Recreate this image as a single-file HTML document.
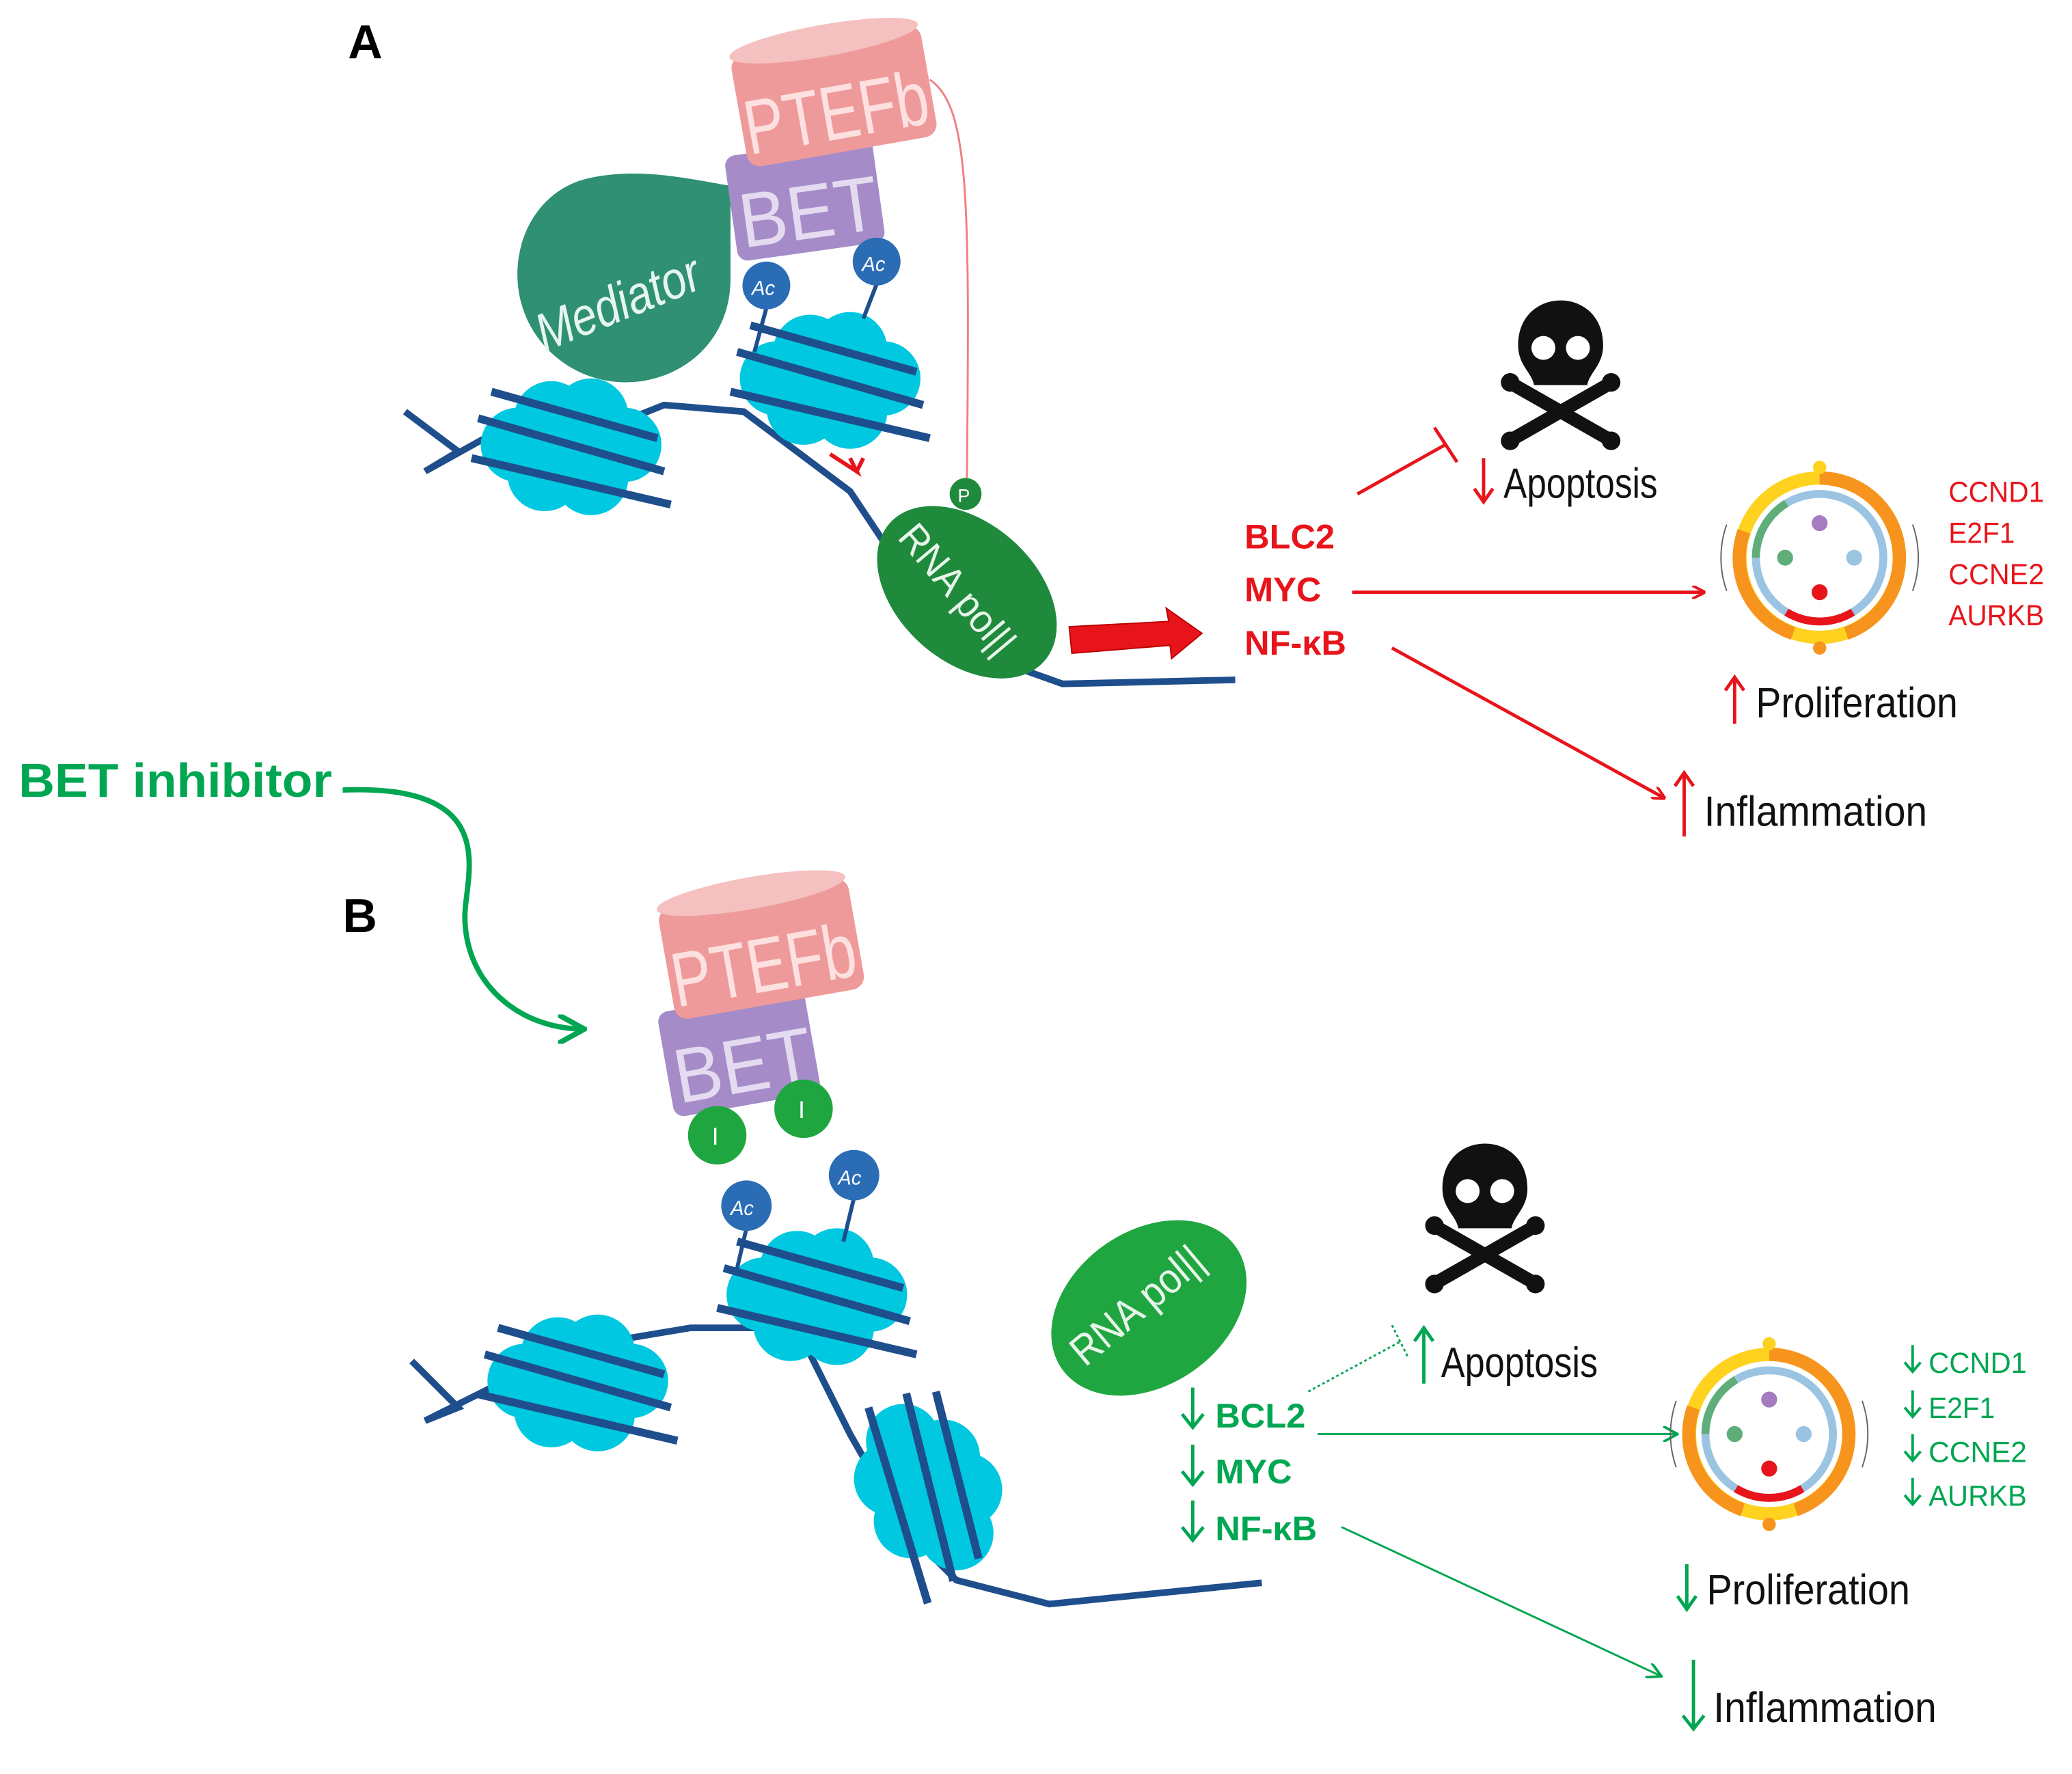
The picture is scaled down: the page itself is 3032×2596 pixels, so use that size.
<!DOCTYPE html>
<html><head><meta charset="utf-8"><style>
html,body{margin:0;padding:0;background:#fff;}
svg{display:block}
text{font-family:"Liberation Sans",sans-serif}
</style></head><body>
<svg width="3032" height="2596" viewBox="0 0 1560 1336" preserveAspectRatio="none" xmlns="http://www.w3.org/2000/svg">
<defs>
<marker id="ar" markerWidth="10" markerHeight="10" refX="9" refY="5" orient="auto" markerUnits="userSpaceOnUse"><path d="M0,0 L10,5 L0,10" fill="none" stroke="#e8141b" stroke-width="2"/></marker>
<marker id="ag" markerWidth="12" markerHeight="12" refX="10" refY="6" orient="auto" markerUnits="userSpaceOnUse"><path d="M0,0 L11,6 L0,12" fill="none" stroke="#00a651" stroke-width="2"/></marker>
<marker id="ag2" markerWidth="22" markerHeight="22" refX="20" refY="11" orient="auto" markerUnits="userSpaceOnUse"><path d="M0,0 L20,11 L0,22" fill="none" stroke="#00a651" stroke-width="4"/></marker>
<g id="nuc">
<circle cx="-40" cy="0" r="28" fill="#00c8e0"/><circle cx="-15" cy="-20" r="28" fill="#00c8e0"/><circle cx="15" cy="-22" r="28" fill="#00c8e0"/><circle cx="40" cy="0" r="28" fill="#00c8e0"/><circle cx="-20" cy="22" r="28" fill="#00c8e0"/><circle cx="15" cy="25" r="28" fill="#00c8e0"/><circle cx="0" cy="0" r="28" fill="#00c8e0"/>
<g fill="none" stroke="#1f4e8c" stroke-width="6"><path d="M-70,-20 L70,20"/><path d="M-75,10 L75,45"/><path d="M-60,-40 L65,-5"/></g>
</g>
<g id="cc">
<circle r="60" fill="none" stroke="#ffd21f" stroke-width="10"/>
<path d="M0,-60 A60,60 0 0 1 60,0 A60,60 0 0 1 20,57" fill="none" stroke="#f7941d" stroke-width="10"/>
<path d="M-57,-20 A60,60 0 0 0 -20,57" fill="none" stroke="#f7941d" stroke-width="10"/>
<circle r="48" fill="none" stroke="#9bc4e2" stroke-width="6"/>
<path d="M-25,41 A48,48 0 0 0 25,41" fill="none" stroke="#e8141b" stroke-width="6"/>
<path d="M-48,0 A48,48 0 0 1 -25,-41" fill="none" stroke="#5fae7a" stroke-width="6"/>
<circle cx="0" cy="-26" r="6" fill="#a67cc0"/><circle cx="-26" cy="0" r="6" fill="#5fae7a"/><circle cx="26" cy="0" r="6" fill="#9bc4e2"/><circle cx="0" cy="26" r="6" fill="#e8141b"/>
<circle cx="0" cy="-68" r="5" fill="#ffd21f"/><circle cx="0" cy="68" r="5" fill="#f7941d"/>
<path d="M70,-25 A75,75 0 0 1 70,25" fill="none" stroke="#666" stroke-width="1"/>
<path d="M-70,-25 A75,75 0 0 0 -70,25" fill="none" stroke="#666" stroke-width="1"/>
</g>
<g id="skull">
<path d="M-35,30 L35,70 M35,30 L-35,70" stroke="#111" stroke-width="10" stroke-linecap="round"/>
<circle cx="-38" cy="28" r="7" fill="#111"/><circle cx="38" cy="28" r="7" fill="#111"/><circle cx="-38" cy="72" r="7" fill="#111"/><circle cx="38" cy="72" r="7" fill="#111"/>
<path d="M-32,0 C-32,-45 32,-45 32,0 C32,15 22,20 20,30 L-20,30 C-22,20 -32,15 -32,0Z" fill="#111"/>
<circle cx="-13" cy="2" r="9" fill="#fff"/><circle cx="13" cy="2" r="9" fill="#fff"/>
</g>
</defs>

<!-- Panel A -->
<text x="262" y="44" font-size="36" font-weight="bold">A</text>
<path d="M305,310 L345,340 L320,355 L365,330 L450,325 L500,305 L560,310 L600,340 L640,370 L680,430 L730,490 L800,515 L930,512" fill="none" stroke="#1f4e8c" stroke-width="5"/>
<use href="#nuc" x="430" y="335"/>
<use href="#nuc" x="625" y="285"/>
<path d="M550,140 L550,210 C550,280 470,310 420,270 C370,230 385,150 440,135 C480,125 520,135 550,140Z" fill="#248a6c" opacity="0.95"/>
<text x="0" y="0" font-size="40" fill="#e6f5ee" font-style="italic" textLength="130" lengthAdjust="spacingAndGlyphs" transform="translate(410,265) rotate(-22)">Mediator</text>
<g transform="rotate(-8 605 150)"><rect x="550" y="110" width="112" height="80" rx="8" fill="#a58cc8"/><text x="555" y="180" font-size="58" fill="#e4dbf0" textLength="105" lengthAdjust="spacingAndGlyphs">BET</text></g>
<g transform="rotate(-10 627 70)"><rect x="555" y="30" width="145" height="85" rx="10" fill="#ef9a9a"/><ellipse cx="627" cy="30" rx="72" ry="12" fill="#f5c0c0"/><text x="557" y="105" font-size="58" fill="#fde0e0" textLength="140" lengthAdjust="spacingAndGlyphs">PTEFb</text></g>
<line x1="577" y1="232" x2="568" y2="265" stroke="#1f4e8c" stroke-width="3"/><circle cx="577" cy="215" r="18" fill="#2a6db5"/><text x="566" y="222" font-size="15" fill="#fff" font-style="italic">Ac</text>
<line x1="660" y1="214" x2="650" y2="240" stroke="#1f4e8c" stroke-width="3"/><circle cx="660" cy="197" r="18" fill="#2a6db5"/><text x="649" y="204" font-size="15" fill="#fff" font-style="italic">Ac</text>
<path d="M700,60 C730,80 730,150 728,360" fill="none" stroke="#f08080" stroke-width="1.5"/>
<path d="M625,342 L645,355 L640,345 M645,355 L650,345" fill="none" stroke="#e8141b" stroke-width="3"/>
<ellipse cx="728" cy="446" rx="78" ry="52" fill="#1f8a3c" transform="rotate(42 728 446)"/>
<text x="0" y="0" font-size="30" fill="#e8f5e9" textLength="118" lengthAdjust="spacingAndGlyphs" transform="translate(675,405) rotate(50)">RNA pol||</text>
<circle cx="727" cy="372" r="12" fill="#1f8a3c"/><text x="721" y="378" font-size="14" fill="#fff">P</text>
<path d="M805,472 L880,468 L878,458 L905,477 L882,496 L881,486 L807,492Z" fill="#e8141b" stroke="#b00" stroke-width="1"/>
<g font-size="26" font-weight="bold" fill="#e8141b">
<text x="937" y="413">BLC2</text><text x="937" y="453">MYC</text><text x="937" y="493">NF-κB</text></g>
<path d="M1022,372 L1088,335 M1080,322 L1097,348" stroke="#e8141b" stroke-width="2.5" fill="none"/>
<line x1="1018" y1="446" x2="1283" y2="446" stroke="#e8141b" stroke-width="2.5" marker-end="url(#ar)"/>
<line x1="1048" y1="488" x2="1253" y2="601" stroke="#e8141b" stroke-width="2.5" marker-end="url(#ar)"/>
<use href="#skull" x="1175" y="260"/>
<g font-size="32" fill="#111" lengthAdjust="spacingAndGlyphs">
<text x="1132" y="375" textLength="116" lengthAdjust="spacingAndGlyphs">Apoptosis</text><text x="1322" y="540" textLength="152" lengthAdjust="spacingAndGlyphs">Proliferation</text><text x="1283" y="622" textLength="168" lengthAdjust="spacingAndGlyphs">Inflammation</text></g>
<g stroke="#e8141b" stroke-width="2.5" fill="none">
<path d="M1117,345 L1117,378 M1110,368 L1117,378 L1124,368"/>
<path d="M1306,545 L1306,510 M1299,520 L1306,510 L1313,520"/>
<path d="M1268,630 L1268,582 M1261,592 L1268,582 L1275,592"/></g>
<use href="#cc" x="1370" y="420"/>
<g font-size="22" fill="#e8141b"><text x="1467" y="378" textLength="72" lengthAdjust="spacingAndGlyphs">CCND1</text><text x="1467" y="409" textLength="50" lengthAdjust="spacingAndGlyphs">E2F1</text><text x="1467" y="440" textLength="72" lengthAdjust="spacingAndGlyphs">CCNE2</text><text x="1467" y="471" textLength="72" lengthAdjust="spacingAndGlyphs">AURKB</text></g>

<text x="14" y="600" font-size="36" font-weight="bold" fill="#00a651" textLength="236" lengthAdjust="spacingAndGlyphs">BET inhibitor</text>
<path d="M258,595 C380,590 350,660 350,690 C350,740 390,775 440,775" fill="none" stroke="#00a651" stroke-width="4" marker-end="url(#ag2)"/>

<!-- Panel B -->
<text x="258" y="702" font-size="36" font-weight="bold">B</text>
<path d="M310,1025 L345,1060 L320,1070 L370,1045 L460,1010 L520,1000 L600,1000 L640,1080 L680,1150 L720,1190 L790,1208 L950,1192" fill="none" stroke="#1f4e8c" stroke-width="5"/>
<use href="#nuc" x="435" y="1040"/>
<use href="#nuc" x="615" y="975"/>
<g transform="rotate(60 700 1120)"><use href="#nuc" x="700" y="1120"/></g>
<g transform="rotate(-10 560 790)"><rect x="500" y="752" width="112" height="80" rx="8" fill="#a58cc8"/><text x="505" y="822" font-size="58" fill="#e4dbf0" textLength="105" lengthAdjust="spacingAndGlyphs">BET</text></g>
<g transform="rotate(-10 572 710)"><rect x="500" y="672" width="145" height="85" rx="10" fill="#ef9a9a"/><ellipse cx="572" cy="672" rx="72" ry="12" fill="#f5c0c0"/><text x="502" y="747" font-size="58" fill="#fde0e0" textLength="140" lengthAdjust="spacingAndGlyphs">PTEFb</text></g>
<circle cx="540" cy="855" r="22" fill="#1fa640"/><text x="536" y="862" font-size="18" fill="#fff">I</text>
<circle cx="605" cy="835" r="22" fill="#1fa640"/><text x="601" y="842" font-size="18" fill="#fff">I</text>
<line x1="562" y1="925" x2="555" y2="955" stroke="#1f4e8c" stroke-width="3"/><circle cx="562" cy="908" r="19" fill="#2a6db5"/><text x="550" y="915" font-size="15" fill="#fff" font-style="italic">Ac</text>
<line x1="643" y1="902" x2="635" y2="935" stroke="#1f4e8c" stroke-width="3"/><circle cx="643" cy="885" r="19" fill="#2a6db5"/><text x="631" y="892" font-size="15" fill="#fff" font-style="italic">Ac</text>
<ellipse cx="865" cy="985" rx="80" ry="58" fill="#1fa640" transform="rotate(-35 865 985)"/>
<text x="0" y="0" font-size="32" fill="#e8f5e9" textLength="120" lengthAdjust="spacingAndGlyphs" transform="translate(817,1030) rotate(-40)">RNA pol||</text>
<g font-size="26" font-weight="bold" fill="#00a651">
<text x="915" y="1075">BCL2</text><text x="915" y="1117">MYC</text><text x="915" y="1160">NF-κB</text></g>
<g stroke="#00a651" stroke-width="2.5" fill="none">
<path d="M898,1045 L898,1075 M890,1065 L898,1075 L906,1065"/>
<path d="M898,1088 L898,1118 M890,1108 L898,1118 L906,1108"/>
<path d="M898,1130 L898,1160 M890,1150 L898,1160 L906,1150"/>
<path d="M1072,1042 L1072,1000 M1065,1010 L1072,1000 L1079,1010"/>
<path d="M1270,1212 L1270,1178 M1263,1202 L1270,1212 L1277,1202"/>
<path d="M1275,1302 L1275,1250 M1267,1292 L1275,1302 L1283,1292"/></g>
<path d="M985,1048 L1055,1010 M1048,998 L1060,1022" stroke="#00a651" stroke-width="1.5" stroke-dasharray="2,2" fill="none"/>
<line x1="992" y1="1080" x2="1262" y2="1080" stroke="#00a651" stroke-width="1.5" marker-end="url(#ag)"/>
<line x1="1010" y1="1150" x2="1250" y2="1262" stroke="#00a651" stroke-width="1.5" marker-end="url(#ag)"/>
<use href="#skull" x="1118" y="895"/>
<g font-size="32" fill="#111">
<text x="1085" y="1037" textLength="118" lengthAdjust="spacingAndGlyphs">Apoptosis</text><text x="1285" y="1208" textLength="153" lengthAdjust="spacingAndGlyphs">Proliferation</text><text x="1290" y="1297" textLength="168" lengthAdjust="spacingAndGlyphs">Inflammation</text></g>
<use href="#cc" x="1332" y="1080"/>
<g font-size="22" fill="#00a651"><text x="1452" y="1034" textLength="74" lengthAdjust="spacingAndGlyphs">CCND1</text><text x="1452" y="1068" textLength="50" lengthAdjust="spacingAndGlyphs">E2F1</text><text x="1452" y="1101" textLength="74" lengthAdjust="spacingAndGlyphs">CCNE2</text><text x="1452" y="1134" textLength="74" lengthAdjust="spacingAndGlyphs">AURKB</text></g>
<g stroke="#00a651" stroke-width="2" fill="none">
<path d="M1440,1013 L1440,1033 M1434,1026 L1440,1033 L1446,1026"/>
<path d="M1440,1047 L1440,1067 M1434,1060 L1440,1067 L1446,1060"/>
<path d="M1440,1080 L1440,1100 M1434,1093 L1440,1100 L1446,1093"/>
<path d="M1440,1113 L1440,1133 M1434,1126 L1440,1133 L1446,1126"/></g>
</svg>
</body></html>
